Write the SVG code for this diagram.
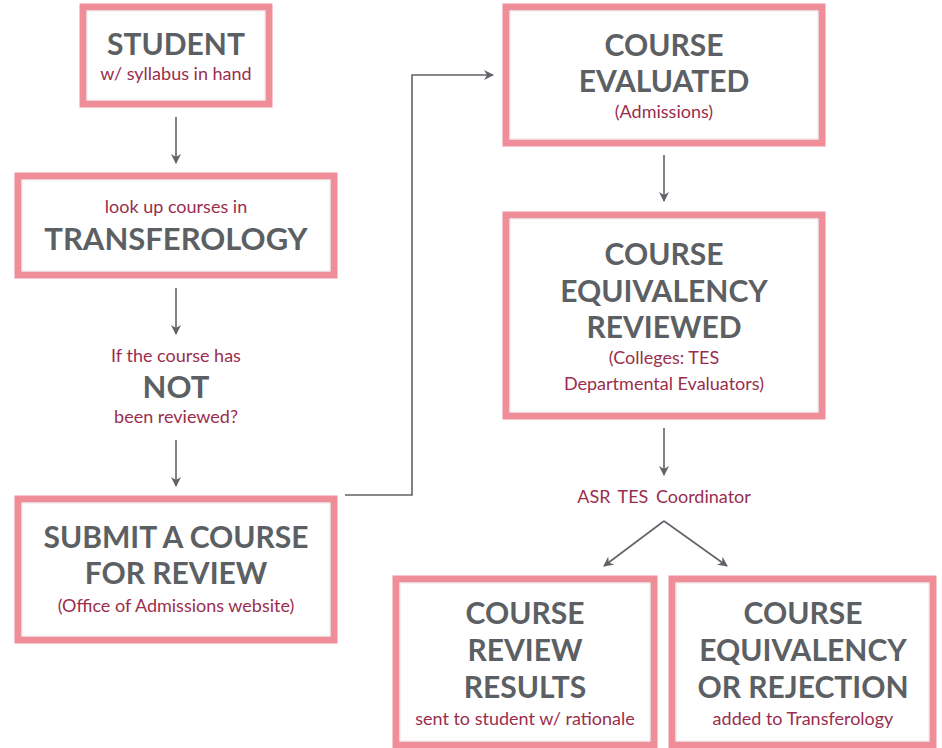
<svg xmlns="http://www.w3.org/2000/svg" width="942" height="748" viewBox="0 0 942 748">
<defs>
<style>
.box{fill:#ffffff;stroke:#ef8e99;stroke-width:7}
.inner{fill:none;stroke:#e6e2e3;stroke-width:1}
.h{font-family:Lato,"Liberation Sans",sans-serif;font-weight:700;fill:#5c5f63;text-anchor:middle;font-size:30px}
.s{font-family:Lato,"Liberation Sans",sans-serif;font-weight:400;fill:#9a2e4e;text-anchor:middle;font-size:18px}
.c{fill:none;stroke:#606368;stroke-width:1.6}
</style>
<marker id="ah" viewBox="0 0 10 10" refX="9" refY="5" markerWidth="10" markerHeight="10" markerUnits="userSpaceOnUse" orient="auto">
<path d="M0,0 L10,5 L0,10 L3,5 Z" fill="#606368"/>
</marker>
</defs>
<rect width="942" height="748" fill="#ffffff"/>
<g id="connectors">
<line class="c" x1="176" y1="117" x2="176" y2="163" marker-end="url(#ah)"/>
<line class="c" x1="176" y1="288" x2="176" y2="334" marker-end="url(#ah)"/>
<line class="c" x1="176" y1="440" x2="176" y2="486" marker-end="url(#ah)"/>
<polyline class="c" points="345,495 412,495 412,75 493,75" marker-end="url(#ah)"/>
<line class="c" x1="664" y1="155" x2="664" y2="201" marker-end="url(#ah)"/>
<line class="c" x1="664" y1="428" x2="664" y2="475" marker-end="url(#ah)"/>
<line class="c" x1="664" y1="521" x2="604" y2="566" marker-end="url(#ah)"/>
<line class="c" x1="664" y1="521" x2="727" y2="566" marker-end="url(#ah)"/>
</g>
<g id="student">
<rect class="box" x="83" y="7" width="186" height="97"/>
<rect class="inner" x="87" y="11" width="178" height="89"/>
<text class="h" x="176" y="55">STUDENT</text>
<text class="s" x="176" y="80">w/ syllabus in hand</text>
</g>
<g id="transferology">
<rect class="box" x="18" y="176" width="316" height="99"/>
<rect class="inner" x="22" y="180" width="308" height="91"/>
<text class="s" x="176" y="213">look up courses in</text>
<text class="h" x="176" y="250" style="font-size:31px">TRANSFEROLOGY</text>
</g>
<g id="not-reviewed">
<text class="s" x="176" y="362">If the course has</text>
<text class="h" x="176" y="398" style="font-size:31px">NOT</text>
<text class="s" x="176" y="423">been reviewed?</text>
</g>
<g id="submit">
<rect class="box" x="18" y="499" width="316" height="141"/>
<rect class="inner" x="22" y="503" width="308" height="133"/>
<text class="h" x="176" y="548">SUBMIT A COURSE</text>
<text class="h" x="176" y="584">FOR REVIEW</text>
<text class="s" x="176" y="612">(Office of Admissions website)</text>
</g>
<g id="evaluated">
<rect class="box" x="506" y="7" width="316" height="136"/>
<rect class="inner" x="510" y="11" width="308" height="128"/>
<text class="h" x="664" y="56">COURSE</text>
<text class="h" x="664" y="92">EVALUATED</text>
<text class="s" x="664" y="118">(Admissions)</text>
</g>
<g id="equivalency-reviewed">
<rect class="box" x="506" y="215" width="316" height="201"/>
<rect class="inner" x="510" y="219" width="308" height="193"/>
<text class="h" x="664" y="265">COURSE</text>
<text class="h" x="664" y="302">EQUIVALENCY</text>
<text class="h" x="664" y="338">REVIEWED</text>
<text class="s" x="664" y="364">(Colleges: TES</text>
<text class="s" x="664" y="390">Departmental Evaluators)</text>
</g>
<g id="coordinator">
<text class="s" x="664" y="503" style="word-spacing:3px">ASR TES Coordinator</text>
</g>
<g id="review-results">
<rect class="box" x="396" y="579" width="258" height="166"/>
<rect class="inner" x="400" y="583" width="250" height="158"/>
<text class="h" x="525" y="624">COURSE</text>
<text class="h" x="525" y="661">REVIEW</text>
<text class="h" x="525" y="698">RESULTS</text>
<text class="s" x="525" y="725">sent to student w/ rationale</text>
</g>
<g id="equivalency-rejection">
<rect class="box" x="672" y="579" width="261" height="166"/>
<rect class="inner" x="676" y="583" width="253" height="158"/>
<text class="h" x="803" y="624">COURSE</text>
<text class="h" x="803" y="661">EQUIVALENCY</text>
<text class="h" x="803" y="698">OR REJECTION</text>
<text class="s" x="803" y="725">added to Transferology</text>
</g>
</svg>
